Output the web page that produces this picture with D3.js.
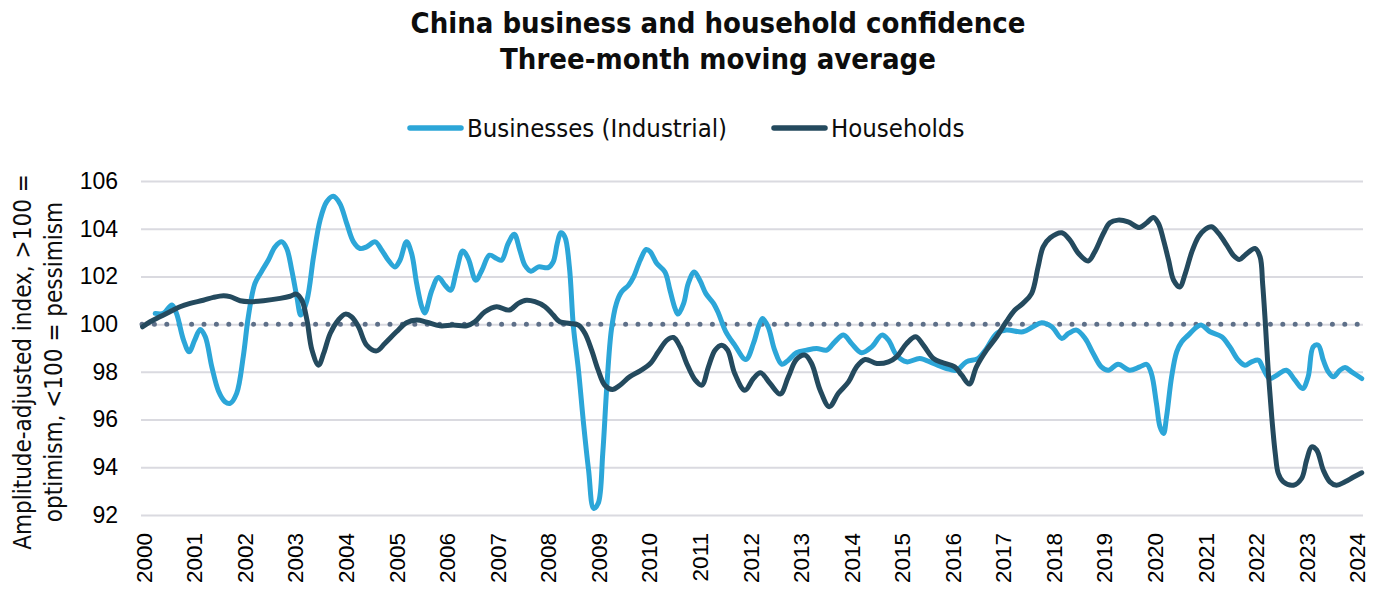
<!DOCTYPE html>
<html>
<head>
<meta charset="utf-8">
<script src="https://cdn.jsdelivr.net/npm/d3@7"></script>
<style>
  html, body { margin: 0; padding: 0; background: #fff; }
  svg { display: block; }
</style>
</head>
<body>
<svg id="chart" width="1385" height="592"></svg>
<script>
// ---- Data ----
const titleLines = ["China business and household confidence", "Three-month moving average"];
const yTitleLines = ["Amplitude-adjusted index, >100 =", "optimism, <100 = pessimism"];
const seriesNames = ["Businesses (Industrial)", "Households"];
const yTicks = [92, 94, 96, 98, 100, 102, 104, 106];
const xTickYears = d3.range(2000, 2025);

const businessDates = [2000.24,2000.40,2000.57,2000.66,2000.80,2000.91,2001.02,2001.13,2001.23,2001.36,2001.49,2001.62,2001.72,2001.85,2001.98,2002.08,2002.21,2002.34,2002.48,2002.61,2002.74,2002.84,2002.94,2003.04,2003.12,2003.24,2003.37,2003.50,2003.63,2003.76,2003.89,2004.03,2004.16,2004.29,2004.42,2004.59,2004.72,2004.85,2004.98,2005.08,2005.21,2005.31,2005.41,2005.51,2005.57,2005.71,2005.84,2005.97,2006.08,2006.20,2006.32,2006.43,2006.58,2006.70,2006.85,2006.99,2007.09,2007.22,2007.34,2007.45,2007.55,2007.67,2007.82,2008.01,2008.11,2008.19,2008.26,2008.34,2008.43,2008.51,2008.61,2008.71,2008.81,2008.91,2009.00,2009.09,2009.17,2009.26,2009.36,2009.46,2009.60,2009.70,2009.83,2009.95,2010.03,2010.16,2010.32,2010.42,2010.52,2010.58,2010.69,2010.78,2010.90,2011.01,2011.13,2011.28,2011.38,2011.52,2011.70,2011.92,2012.07,2012.17,2012.25,2012.36,2012.49,2012.63,2012.76,2012.92,2013.12,2013.32,2013.52,2013.68,2013.85,2014.01,2014.21,2014.41,2014.61,2014.74,2014.90,2015.10,2015.36,2015.63,2015.89,2016.09,2016.28,2016.51,2016.68,2016.88,2017.07,2017.40,2017.60,2017.77,2017.97,2018.17,2018.30,2018.46,2018.63,2018.79,2018.95,2019.09,2019.28,2019.51,2019.71,2019.85,2019.94,2020.04,2020.11,2020.18,2020.24,2020.34,2020.44,2020.54,2020.67,2020.84,2020.93,2021.10,2021.33,2021.49,2021.66,2021.79,2021.92,2022.06,2022.15,2022.28,2022.42,2022.61,2022.78,2022.93,2023.04,2023.14,2023.24,2023.34,2023.44,2023.54,2023.67,2023.77,2023.90,2024.10];
const businessValues = [100.45,100.45,100.8,100.45,99.33,98.84,99.33,99.78,99.47,98.2,97.2,96.75,96.68,97.1,98.63,100.3,101.7,102.2,102.7,103.24,103.45,103.17,102.26,101.15,100.38,101.0,102.82,104.36,105.13,105.36,105.06,104.2,103.45,103.17,103.24,103.45,103.1,102.68,102.4,102.68,103.45,102.96,101.7,100.73,100.47,101.42,101.96,101.63,101.42,102.26,103.07,102.75,101.84,102.26,102.89,102.75,102.68,103.38,103.77,103.1,102.47,102.22,102.4,102.37,102.61,103.38,103.83,103.66,102.4,99.89,98.07,95.84,93.88,92.28,92.49,94.58,97.37,99.75,100.87,101.35,101.63,101.98,102.68,103.13,103.03,102.54,102.19,101.42,100.66,100.42,100.87,101.7,102.19,101.84,101.28,100.87,100.45,99.7,99.12,98.52,99.19,99.89,100.24,99.89,98.91,98.32,98.49,98.8,98.91,98.98,98.91,99.26,99.54,99.19,98.8,99.05,99.54,99.33,98.7,98.42,98.56,98.35,98.14,98.07,98.42,98.56,98.98,99.61,99.75,99.68,99.89,100.06,99.89,99.4,99.61,99.75,99.4,98.77,98.21,98.07,98.32,98.07,98.21,98.31,97.93,96.68,95.7,95.42,96.12,97.79,98.84,99.26,99.54,99.89,99.96,99.68,99.47,99.05,98.49,98.28,98.42,98.49,98.14,97.72,97.86,98.07,97.65,97.3,97.79,99.05,99.12,98.49,98.0,97.79,98.07,98.18,98.0,97.72];

const householdDates = [1999.99,2000.14,2000.33,2000.53,2000.73,2000.93,2001.19,2001.39,2001.59,2001.72,2001.92,2002.11,2002.38,2002.71,2002.91,2003.03,2003.14,2003.24,2003.34,2003.47,2003.57,2003.70,2003.86,2004.00,2004.12,2004.26,2004.42,2004.62,2004.78,2005.01,2005.21,2005.41,2005.61,2005.87,2006.13,2006.40,2006.56,2006.76,2006.99,2007.24,2007.42,2007.58,2007.75,2007.95,2008.11,2008.24,2008.44,2008.61,2008.74,2008.87,2009.00,2009.13,2009.28,2009.43,2009.62,2009.83,2010.03,2010.19,2010.36,2010.49,2010.62,2010.75,2010.92,2011.05,2011.18,2011.31,2011.44,2011.56,2011.70,2011.90,2012.07,2012.21,2012.40,2012.60,2012.76,2012.92,2013.09,2013.22,2013.39,2013.57,2013.75,2013.95,2014.11,2014.28,2014.51,2014.74,2014.90,2015.10,2015.28,2015.43,2015.63,2015.82,2016.05,2016.19,2016.34,2016.48,2016.68,2016.88,2017.07,2017.24,2017.40,2017.57,2017.70,2017.80,2017.94,2018.17,2018.33,2018.50,2018.69,2018.82,2018.99,2019.12,2019.28,2019.48,2019.70,2019.85,2019.98,2020.08,2020.18,2020.28,2020.38,2020.50,2020.61,2020.74,2020.87,2021.00,2021.13,2021.27,2021.43,2021.56,2021.68,2021.79,2021.99,2022.09,2022.14,2022.19,2022.25,2022.32,2022.39,2022.45,2022.55,2022.75,2022.91,2023.01,2023.11,2023.21,2023.34,2023.47,2023.60,2023.77,2023.93,2024.10];
const householdValues = [99.89,100.1,100.31,100.52,100.73,100.87,101.0,101.12,101.19,101.15,100.98,100.94,100.98,101.08,101.17,101.26,101.0,100.17,98.91,98.28,98.77,99.61,100.17,100.42,100.31,99.89,99.12,98.88,99.19,99.68,100.06,100.17,100.08,99.93,99.96,99.93,100.1,100.52,100.73,100.59,100.87,101.0,100.94,100.73,100.38,100.1,100.03,99.96,99.61,98.91,98.07,97.44,97.26,97.44,97.79,98.04,98.35,98.84,99.33,99.44,99.05,98.35,97.65,97.44,98.21,98.91,99.12,98.91,97.93,97.23,97.72,97.96,97.51,97.07,97.79,98.52,98.7,98.35,97.23,96.54,97.1,97.58,98.21,98.52,98.35,98.42,98.63,99.19,99.47,99.12,98.56,98.38,98.21,97.86,97.49,98.21,98.91,99.47,100.1,100.59,100.87,101.28,102.4,103.24,103.62,103.83,103.52,102.96,102.65,103.03,103.8,104.25,104.36,104.29,104.05,104.25,104.47,104.22,103.52,102.68,101.84,101.56,102.12,103.03,103.66,103.97,104.08,103.8,103.31,102.89,102.71,102.89,103.17,102.82,101.7,100.17,98.07,96.12,94.58,93.74,93.39,93.25,93.53,94.3,94.86,94.72,93.88,93.39,93.25,93.39,93.58,93.77];

const baselineValue = 100;

// ---- Layout ----
const colors = { business: "#2ca6d8", household: "#244a5e", grid: "#dadae0", dots: "#5e7089" };
const textFont = "'DejaVu Sans Condensed', 'DejaVu Sans', sans-serif";
const numFont = "'Liberation Sans', Arial, sans-serif";
const plot = { left: 141, right: 1363, top: 181, bottom: 515 };

const svg = d3.select("#chart");

const x = d3.scaleLinear()
  .domain([2000 - 0.5 / 12, 2024 + 1.5 / 12])
  .range([plot.left, plot.right]);
const y = d3.scaleLinear()
  .domain([92, 106])
  .range([plot.bottom, plot.top]);

// Gridlines + y axis labels
const yAxis = d3.axisLeft(y)
  .tickValues(yTicks)
  .tickSize(-(plot.right - plot.left))
  .tickPadding(23)
  .tickFormat(d3.format("d"));
const gy = svg.append("g")
  .attr("transform", `translate(${plot.left},0)`)
  .call(yAxis);
gy.select(".domain").remove();
gy.selectAll(".tick line").attr("stroke", colors.grid).attr("stroke-width", 2);
gy.selectAll(".tick text")
  .attr("font-family", numFont).attr("font-size", 23).attr("fill", "#000");

// X axis labels
const xAxis = d3.axisBottom(x)
  .tickValues(xTickYears)
  .tickSize(0)
  .tickFormat(d3.format("d"));
const gx = svg.append("g")
  .attr("transform", `translate(0,${plot.bottom})`)
  .call(xAxis);
gx.select(".domain").remove();
gx.selectAll(".tick text")
  .attr("font-family", numFont).attr("font-size", 22.5).attr("fill", "#000")
  .attr("transform", "rotate(-90)")
  .attr("text-anchor", "end")
  .attr("x", -18).attr("y", 0).attr("dy", "0.36em");

// Baseline dotted line at 100
svg.append("line")
  .attr("x1", plot.left + 1).attr("x2", plot.right)
  .attr("y1", y(baselineValue)).attr("y2", y(baselineValue))
  .attr("stroke", colors.dots).attr("stroke-width", 5)
  .attr("stroke-linecap", "round").attr("stroke-dasharray", "0,12.4");

// Lines
const line = d3.line()
  .x(d => x(d[0])).y(d => y(d[1]))
  .curve(d3.curveCatmullRom.alpha(0.5));

const businessData = businessDates.map((d, i) => [d, businessValues[i]]);
const householdData = householdDates.map((d, i) => [d, householdValues[i]]);

svg.append("path").datum(businessData)
  .attr("d", line).attr("fill", "none")
  .attr("stroke", colors.business).attr("stroke-width", 5)
  .attr("stroke-linejoin", "round").attr("stroke-linecap", "round");
svg.append("path").datum(householdData)
  .attr("d", line).attr("fill", "none")
  .attr("stroke", colors.household).attr("stroke-width", 5)
  .attr("stroke-linejoin", "round").attr("stroke-linecap", "round");

// Title
svg.selectAll(".title").data(titleLines).enter().append("text")
  .attr("class", "title")
  .attr("x", 718).attr("y", (d, i) => 33 + i * 36)
  .attr("text-anchor", "middle")
  .attr("font-family", textFont).attr("font-weight", "bold")
  .attr("font-size", 29).attr("fill", "#0d0d0d")
  .text(d => d);

// Legend
const legendItems = [
  { name: seriesNames[0], color: colors.business, x: 408 },
  { name: seriesNames[1], color: colors.household, x: 772 }
];
const lg = svg.append("g");
legendItems.forEach(it => {
  lg.append("line")
    .attr("x1", it.x + 2).attr("x2", it.x + 53)
    .attr("y1", 128).attr("y2", 128)
    .attr("stroke", it.color).attr("stroke-width", 5.5).attr("stroke-linecap", "round");
  lg.append("text")
    .attr("x", it.x + 59).attr("y", 137)
    .attr("font-family", textFont).attr("font-size", 25.5).attr("fill", "#0d0d0d")
    .text(it.name);
});

// Y title
const yt = svg.append("text")
  .attr("transform", "translate(31,362) rotate(-90)")
  .attr("text-anchor", "middle")
  .attr("font-family", textFont).attr("font-size", 24).attr("fill", "#0d0d0d");
yTitleLines.forEach((t, i) => {
  yt.append("tspan").attr("x", 0).attr("y", i * 31).text(t);
});
</script>
</body>
</html>
